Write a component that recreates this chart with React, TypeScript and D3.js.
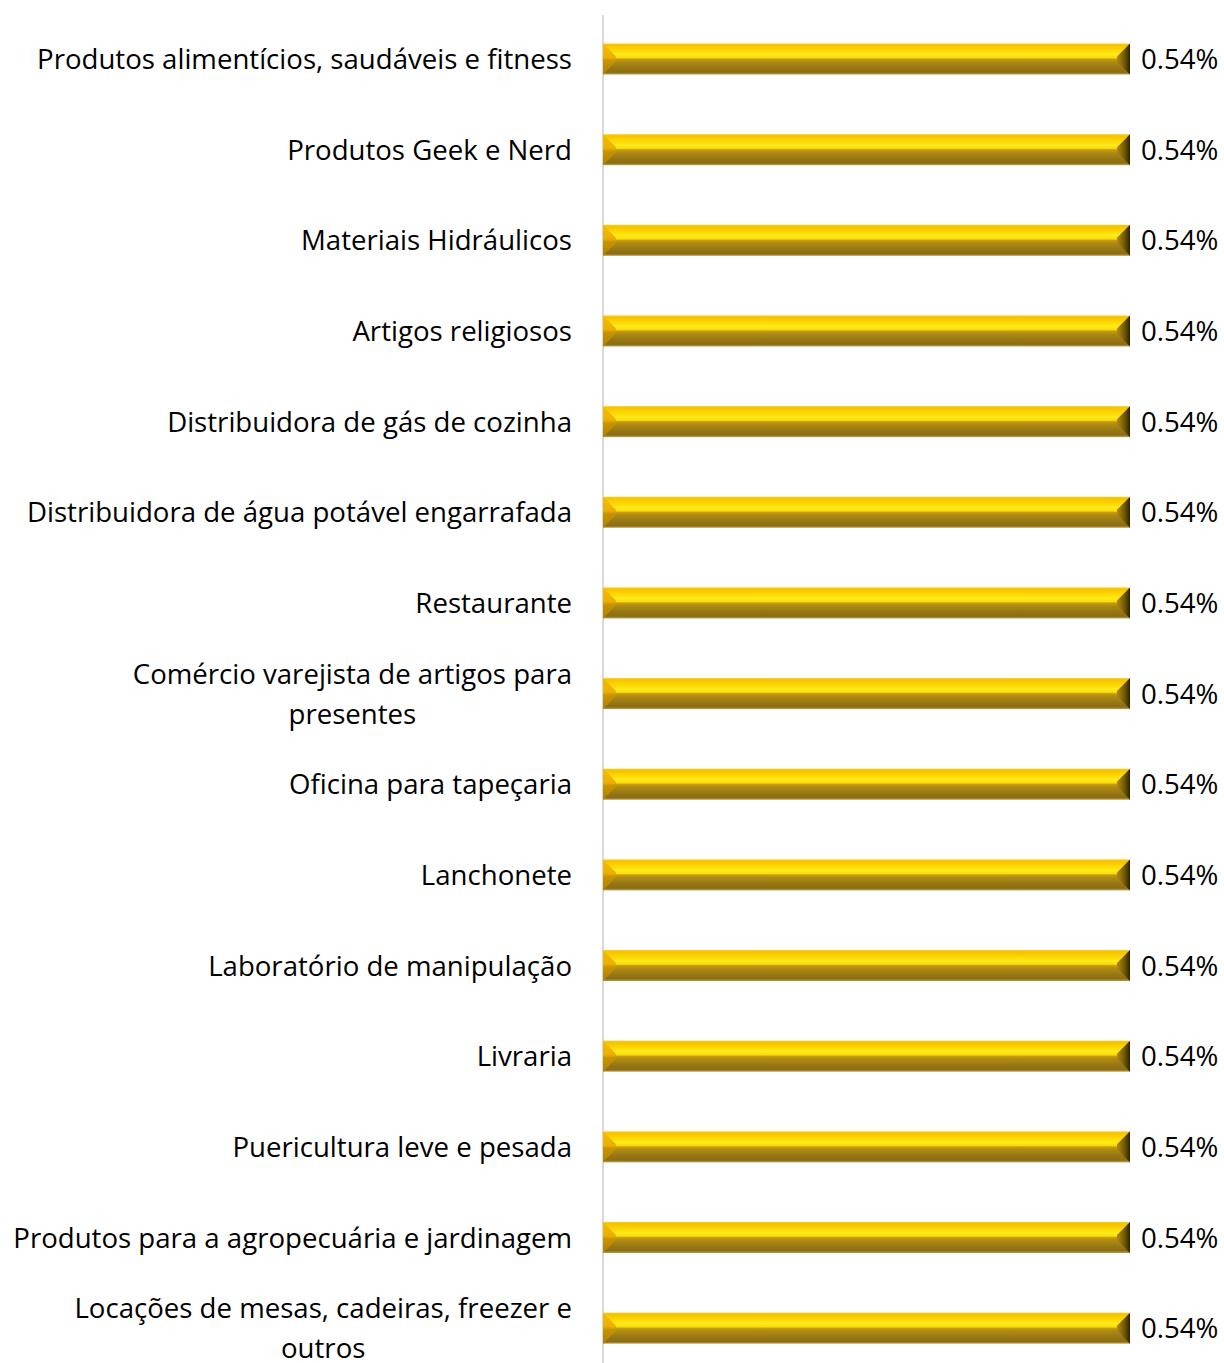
import React from "react";
import * as d3 from "d3";

const categories: string[] = [
  "Produtos alimentícios, saudáveis e fitness",
  "Produtos Geek e Nerd",
  "Materiais Hidráulicos",
  "Artigos religiosos",
  "Distribuidora de gás de cozinha",
  "Distribuidora de água potável engarrafada",
  "Restaurante",
  "Comércio varejista de artigos para\npresentes",
  "Oficina para tapeçaria",
  "Lanchonete",
  "Laboratório de manipulação",
  "Livraria",
  "Puericultura leve e pesada",
  "Produtos para a agropecuária e jardinagem",
  "Locações de mesas, cadeiras, freezer e\noutros",
];
const values: number[] = [0.54, 0.54, 0.54, 0.54, 0.54, 0.54, 0.54, 0.54, 0.54, 0.54, 0.54, 0.54, 0.54, 0.54, 0.54];

const W = 1224;
const H = 1363;
const FONT = "'Open Sans', sans-serif";
const FS = 27.6;

let ctx: CanvasRenderingContext2D | null = null;
function measure(t: string): number {
  if (!ctx) ctx = document.createElement("canvas").getContext("2d");
  if (!ctx) return t.length * FS * 0.5;
  ctx.font = `${FS}px ${FONT}`;
  return ctx.measureText(t).width;
}

export default function App() {
  const x = d3.scaleLinear().domain([0, 0.54]).range([603, 1130]);
  const y = d3
    .scaleBand<string>()
    .domain(categories)
    .range([13.7, 1373.5])
    .paddingInner(0.658)
    .paddingOuter(0.329);
  const bh = y.bandwidth();
  const labelRight = 572;
  const bev = 13;
  const base = 10;

  return (
    <svg width={W} height={H} style={{ display: "block", position: "absolute", left: 0, top: 0 }} fontFamily={FONT}>
      <defs>
        <linearGradient id="gBody" x1="0" y1="0" x2="0" y2="1">
          <stop offset="0" stopColor="#E8C860" />
          <stop offset="0.06" stopColor="#F6C200" />
          <stop offset="0.2" stopColor="#FFD400" />
          <stop offset="0.36" stopColor="#FFEA1C" />
          <stop offset="0.46" stopColor="#F8DC00" />
          <stop offset="0.5" stopColor="#C9A008" />
          <stop offset="0.58" stopColor="#B08C12" />
          <stop offset="0.78" stopColor="#987812" />
          <stop offset="0.93" stopColor="#8C6C10" />
          <stop offset="1" stopColor="#C8A238" />
        </linearGradient>
        <linearGradient id="gLeft" x1="0" y1="0" x2="0" y2="1">
          <stop offset="0" stopColor="#F2BC00" />
          <stop offset="0.45" stopColor="#EBB000" />
          <stop offset="0.55" stopColor="#C89400" />
          <stop offset="1" stopColor="#B08000" />
        </linearGradient>
        <linearGradient id="gRight" x1="0" y1="0" x2="1" y2="0">
          <stop offset="0" stopColor="#B08A10" />
          <stop offset="0.6" stopColor="#6E5608" />
          <stop offset="1" stopColor="#2E2400" />
        </linearGradient>
      </defs>
      <line x1={603} x2={603} y1={15} y2={H} stroke="#D9D9D9" strokeWidth={2} />
      {categories.map((c, i) => {
        const y0 = y(c)!;
        const y1 = y0 + bh;
        const x0 = x(0);
        const x1 = x(values[i]);
        const cy = y0 + bh / 2;
        const m = Math.min(bev, bh / 2 - 1);
        const lines = c.split("\n");
        const widths = lines.map(measure);
        const maxW = Math.max(...widths);
        const centerX = labelRight - maxW / 2;
        const lh = 40;
        return (
          <g key={c}>
            <rect x={x0} y={y0} width={x1 - x0} height={bh} fill="url(#gBody)" />
            <polygon
              points={`${x0},${y0} ${x0 + bev},${y0 + m} ${x0 + bev},${y1 - m} ${x0},${y1}`}
              fill="url(#gLeft)"
            />
            <polygon
              points={`${x1},${y0} ${x1 - bev},${y0 + m} ${x1 - bev},${y1 - m} ${x1},${y1}`}
              fill="url(#gRight)"
            />
            {lines.length === 1 ? (
              <text x={labelRight} y={cy + base} textAnchor="end" fontSize={FS} fill="#000">
                {c}
              </text>
            ) : (
              lines.map((l, j) => (
                <text
                  key={j}
                  x={centerX}
                  y={cy + base + (j - (lines.length - 1) / 2) * lh}
                  textAnchor="middle"
                  fontSize={FS}
                  fill="#000"
                >
                  {l}
                </text>
              ))
            )}
            <text x={x1 + 11} y={cy + base} fontSize={FS} fill="#000">
              {(values[i]).toFixed(2) + "%"}
            </text>
          </g>
        );
      })}
    </svg>
  );
}
